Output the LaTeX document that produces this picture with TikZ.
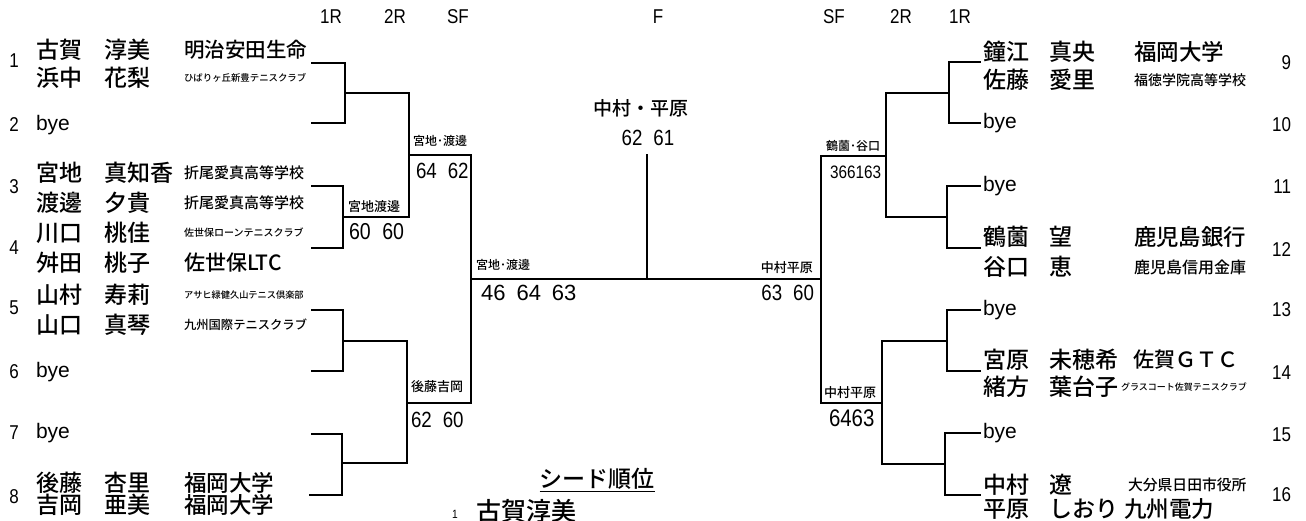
\documentclass[tikz,border=0pt]{standalone}
\usepackage{fontspec}
\setmainfont{Noto Sans CJK JP}[UprightFont={* Medium}]
\newfontfamily\numfont[FakeStretch=0.85]{Liberation Sans}
\newfontfamily\latfont{Liberation Sans}
\newcommand{\fs}[1]{\fontsize{#1}{#1}\selectfont}
\usepackage{tikz}

\tikzset{
	pname/.style={anchor=west,inner sep=0pt,font=\fs{23}},
	club/.style={anchor=west,inner sep=0pt,font=\fs{#1}},
	pair/.style={anchor=west,inner sep=0pt,font=\fs{#1}},
	seed/.style={inner sep=0pt,font=\numfont\fs{20}},
	rlabel/.style={inner sep=0pt,font=\numfont\fs{20}},
	score/.style={anchor=west,inner sep=0pt,font=\numfont\fs{22}},
	byetext/.style={anchor=west,inner sep=0pt,font=\latfont\fs{21}},
}

\begin{document}
\begin{tikzpicture}[x=1pt,y=-1pt,line width=2.1pt,line cap=rect]
		\useasboundingbox (0,0) rectangle (1306,521);
		%round headings
		\foreach \t/\x [count=\i] in {1R/331,2R/395,SF/458,F/658,SF/834,2R/901,1R/960}{
		\node[rlabel] (h\i) at (\x,17) {\t};}
		
		%left draw
		\foreach \fam/\giv/\cl/\sz/\y [count=\i] in {古賀/淳美/明治安田生命/20.5/50,浜中/花梨/ひばりヶ丘新豊テニスクラブ/9.4/78,宮地/真知香/折尾愛真高等学校/15/173,渡邊/夕貴/折尾愛真高等学校/15/203,川口/桃佳/佐世保ローンテニスクラブ/10/233,舛田/桃子/佐世保LTC/21/263,山村/寿莉/アサヒ緑健久山テニス倶楽部/9.2/295,山口/真琴/九州国際テニスクラブ/12.3/325,後藤/杏里/福岡大学/22.5/483,吉岡/亜美/福岡大学/22.5/505}{
		\node[pname] (lf\i) at (35,\y) {\fam};
		\node[pname] (lg\i) at (103,\y) {\giv};
		\node[club=\sz] (lc\i) at (183,\y) {\cl};}
		\foreach \n/\y in {1/61,2/125,3/187,4/248,5/308,6/372,7/433,8/497}{
		\node[seed] (sd\n) at (14,\y) {\n};}
		\foreach \n/\y in {2/125,6/372,7/433}{
		\node[byetext] (by\n) at (35,\y) {bye};}
		
		%right draw
		\foreach \fam/\giv/\cl/\sz/\y/\x [count=\i] in {鐘江/真央/福岡大学/22.5/52/1133,佐藤/愛里/福徳学院高等学校/14/80/1133,鶴薗/望/鹿児島銀行/22.4/237/1133,谷口/恵/鹿児島信用金庫/16/267/1133,宮原/未穂希/佐賀ＧＴＣ/21/360/1132,緒方/葉台子/グラスコート佐賀テニスクラブ/9/387/1120,中村/遼/大分県日田市役所/14.8/485/1127,平原/しおり/九州電力/22.5/509/1123}{
		\node[pname] (rf\i) at (982,\y) {\fam};
		\node[pname] (rg\i) at (1048,\y) {\giv};
		\node[club=\sz] (rc\i) at (\x,\y) {\cl};}
		\foreach \n/\y in {9/63,10/125,11/187,12/250,13/310,14/373,15/435,16/495}{
		\node[seed,anchor=east] (sd\n) at (1292,\y) {\n};}
		\foreach \n/\y in {10/123,11/186,13/310,15/433}{
		\node[byetext] (by\n) at (982,\y) {bye};}
		
		%left bracket
		\draw (312,63) -| (345,123) -- (312,123);
		\draw (312,186) -| (343,248) -- (312,248);
		\draw (312,310) -| (343,371) -- (312,371);
		\draw (312,434) -| (342,495) -- (310,495);
		\draw (345,93) -| (409,217) -- (343,217);
		\draw (343,341) -| (407,463) -- (342,463);
		\draw (409,155) -| (471,403) -- (407,403);
		%final
		\draw (471,279) -- (821,279);
		\draw (647,155) -- (647,279);
		%right bracket
		\draw (980,62) -| (949,123) -- (980,123);
		\draw (980,186) -| (947,248) -- (980,248);
		\draw (980,310) -| (947,371) -- (980,371);
		\draw (980,433) -| (945,495) -- (980,495);
		\draw (949,93) -| (886,217) -- (947,217);
		\draw (947,341) -| (882,464) -- (945,464);
		\draw (886,156) -| (821,403) -- (882,403);
		
		%winners and scores
		\node[pair=13] (w34) at (347,207) {宮地渡邊};
		\node[score,font=\numfont\fs{23}] (s34) at (348,232) {60\enspace60};
		\node[pair=12] (wsl) at (412,141) {宮地･渡邊};
		\node[score] (ssl) at (415,171) {64\enspace62};
		\node[pair=13] (w78) at (410,387) {後藤吉岡};
		\node[score] (s78) at (410,420) {62\enspace60};
		\node[pair=12] (wfl) at (475,265) {宮地･渡邊};
		\node[score,font=\latfont\fs{22}] (sfl) at (480,293) {46\enspace64\enspace63};
		\node[pair=13,anchor=east] (wfr) at (814,268) {中村平原};
		\node[score,anchor=east] (sfr) at (815,293) {63\enspace60};
		\node[pair=12] (wsr) at (825,146) {鶴薗･谷口};
		\node[score,font=\numfont\fs{18}] (ssr) at (829,172) {366163};
		\node[pair=13] (w1316) at (823,393) {中村平原};
		\node[score,font=\numfont\fs{24}] (s1316) at (828,418) {6463};
		\node[pair=19,anchor=center] (champ) at (641,108) {中村・平原};
		\node[score,anchor=center] (fscore) at (648,138) {62\enspace61};
		
		%seeds
		\node[inner sep=0pt,font=\fs{23}] (sdt) at (597,480) {\underline{シード順位}};
		\node[inner sep=0pt,font=\numfont\fs{12}] (sd1n) at (455,514) {1};
		\node[pname,font=\fs{25}] (sd1m) at (475,511) {古賀淳美};
		
		\end{tikzpicture}
\end{document}
